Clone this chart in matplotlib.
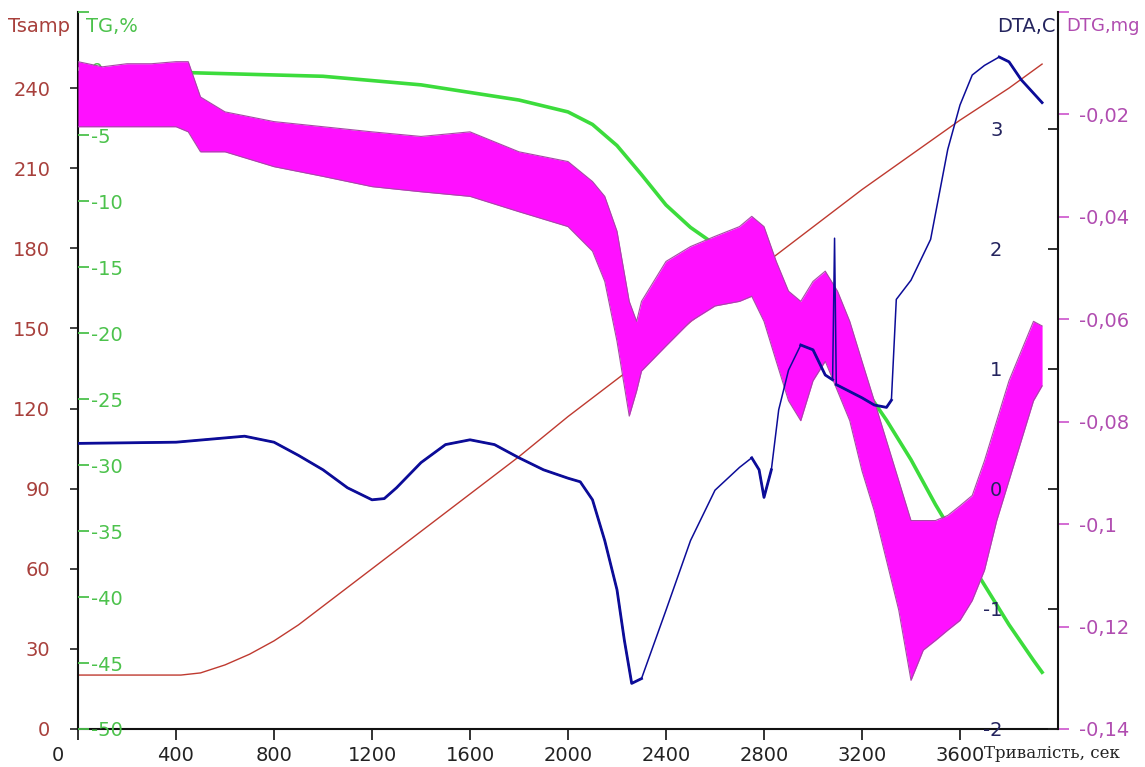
import matplotlib
matplotlib.use('Agg')
import matplotlib.pyplot as plt

plt.rcParams['axes.unicode_minus'] = False
plt.rcParams['font.family'] = ['DejaVu Sans']

####### Data #######

# sample temperature, deg C
temp_t = [0, 420, 500, 600, 700, 800, 900, 1000, 1200, 1400, 1600, 1800,
          2000, 2200, 2400, 2600, 2800, 3000, 3200, 3400, 3600, 3800, 3935]
temp_v = [20.2, 20.2, 21, 24, 28, 33, 39, 46, 60, 74, 88, 102,
          117, 131, 145, 160, 174, 188, 202, 215, 228, 240, 249]

# mass loss TG, %
tg_t = [0, 500, 1000, 1400, 1800, 2000, 2100, 2200, 2300, 2400, 2500, 2600,
        2700, 2800, 2900, 3000, 3100, 3200, 3300, 3400, 3500, 3600, 3700,
        3800, 3900, 3935]
tg_v = [0.0, -0.3, -0.55, -1.2, -2.35, -3.25, -4.2, -5.8, -8.0, -10.3, -12.0,
        -13.3, -14.6, -16.0, -17.5, -19.2, -21.3, -23.9, -26.6, -29.6, -33.0,
        -36.1, -39.1, -42.1, -44.8, -45.7]

# DTA signal
dta_t = [0, 400, 680, 800, 900, 1000, 1100, 1200, 1250, 1300, 1400, 1500,
         1600, 1700, 1800, 1900, 2000, 2050, 2100, 2150, 2200, 2230, 2260,
         2300, 2400, 2500, 2600, 2700, 2750, 2780, 2800, 2830, 2860, 2900,
         2950, 3000, 3050, 3080, 3088, 3095, 3200, 3250, 3300, 3320, 3340,
         3400, 3480, 3550, 3600, 3650, 3700, 3760, 3800, 3850, 3935]
dta_v = [0.38, 0.39, 0.44, 0.39, 0.28, 0.16, 0.01, -0.09, -0.08, 0.01, 0.22,
         0.37, 0.41, 0.37, 0.26, 0.16, 0.09, 0.06, -0.09, -0.43, -0.84, -1.26,
         -1.62, -1.58, -1.01, -0.43, -0.01, 0.18, 0.26, 0.16, -0.07, 0.16,
         0.66, 0.99, 1.2, 1.16, 0.95, 0.91, 2.09, 0.87, 0.76, 0.7, 0.68, 0.74,
         1.58, 1.74, 2.08, 2.83, 3.2, 3.45, 3.53, 3.6, 3.56, 3.41, 3.22]
# stretches where the DTA trace is noisy (drawn heavier)
dta_noisy = [(0, 2300), (2740, 2850), (2950, 3080), (3095, 3320), (3760, 3935)]

# DTG signal, upper and lower edge of the noisy trace
dtg_t = [0, 100, 200, 300, 400, 450, 500, 600, 800, 1000, 1200, 1400, 1600,
         1800, 2000, 2100, 2150, 2200, 2250, 2280, 2300, 2400, 2500, 2600,
         2700, 2750, 2800, 2850, 2900, 2950, 3000, 3050, 3100, 3150, 3200,
         3250, 3300, 3350, 3400, 3450, 3500, 3550, 3600, 3650, 3700, 3750,
         3800, 3850, 3900, 3935]
dtg_hi = [-0.0097, -0.0107, -0.0101, -0.0101, -0.0097, -0.0097, -0.0166,
          -0.0195, -0.0214, -0.0224, -0.0234, -0.0243, -0.0234, -0.0273,
          -0.0292, -0.0331, -0.0360, -0.0428, -0.0565, -0.0604, -0.0565,
          -0.0487, -0.0458, -0.0438, -0.0419, -0.0399, -0.0419, -0.0487,
          -0.0545, -0.0565, -0.0526, -0.0506, -0.0545, -0.0604, -0.0682,
          -0.0759, -0.0837, -0.0915, -0.0993, -0.0993, -0.0993, -0.0983,
          -0.0964, -0.0944, -0.0876, -0.0798, -0.0720, -0.0662, -0.0604,
          -0.0613]
dtg_lo = [-0.0224, -0.0224, -0.0224, -0.0224, -0.0224, -0.0234, -0.0273,
          -0.0273, -0.0302, -0.0321, -0.0341, -0.0351, -0.0360, -0.0390,
          -0.0419, -0.0467, -0.0526, -0.0643, -0.0789, -0.0740, -0.0701,
          -0.0652, -0.0604, -0.0574, -0.0565, -0.0555, -0.0604, -0.0682,
          -0.0759, -0.0798, -0.0720, -0.0682, -0.0740, -0.0798, -0.0896,
          -0.0974, -0.1071, -0.1168, -0.1305, -0.1246, -0.1227, -0.1207,
          -0.1188, -0.1149, -0.1090, -0.0993, -0.0915, -0.0837, -0.0759,
          -0.0730]

x_ticks = [0, 400, 800, 1200, 1600, 2000, 2400, 2800, 3200, 3600]
temp_ticks = [0, 30, 60, 90, 120, 150, 180, 210, 240]
tg_ticks = [-50, -45, -40, -35, -30, -25, -20, -15, -10, -5, 0]
dta_ticks = [-2, -1, 0, 1, 2, 3]
dtg_ticks = [-0.14, -0.12, -0.10, -0.08, -0.06, -0.04, -0.02, 0.0]
dtg_labels = ['-0,14', '-0,12', '-0,1', '-0,08', '-0,06', '-0,04', '-0,02', '']

####### Colours #######

RED = '#bf3a30'
RED_TXT = '#a8403c'
GREEN = '#3cdc3c'
GREEN_TXT = '#4cc24c'
BLUE = '#0c0c98'
NAVY_TXT = '#24245e'
MAGENTA = '#ff10ff'
PURPLE = '#a64aa6'
PURPLE_TXT = '#b04cb0'

W, H = 1145, 767
fig = plt.figure(figsize=(W / 100, H / 100), dpi=100)
ax = fig.add_axes([78 / W, 38 / H, 980 / W, 717 / H])

# temperature axis (host)
ax.plot(temp_t, temp_v, color=RED, lw=1.0, zorder=2)
ax.set_xlim(0, 4000)
ax.set_ylim(0, 268.5)
ax.set_xticks(x_ticks)
ax.set_xticklabels([''] + [str(v) for v in x_ticks[1:]])
ax.set_yticks(temp_ticks)
ax.set_yticklabels([str(v) for v in temp_ticks])
ax.tick_params(axis='x', direction='out', length=8, width=1.3, pad=4,
               labelsize=14, colors='#222222')
ax.tick_params(axis='y', direction='out', length=6, width=1.3, pad=14,
               labelsize=14, color='#333333', labelcolor=RED_TXT)
# the "0" of the time axis sits left of the spine
ax.annotate(str(x_ticks[0]), xy=(x_ticks[0], 0),
            xycoords=('data', 'axes fraction'), xytext=(-14.5, -12),
            textcoords='offset points', ha='center', va='top', fontsize=14,
            color='#222222')
for s in ['top', 'right']:
    ax.spines[s].set_visible(False)
for s in ['left', 'bottom']:
    ax.spines[s].set_linewidth(1.5)
    ax.spines[s].set_color('#111111')

# TG axis, ticks and labels inside the left spine
ax_tg = ax.twinx()
for s in ax_tg.spines.values():
    s.set_visible(False)
ax_tg.plot(tg_t, tg_v, color=GREEN, lw=2.6)
ax_tg.set_ylim(-50, 4.32)
ax_tg.yaxis.tick_left()
ax_tg.set_yticks(tg_ticks)
ax_tg.set_yticklabels([str(v) for v in tg_ticks])
ax_tg.set_yticks([4.32], minor=True)
ax_tg.tick_params(axis='y', which='both', left=True, right=False,
                  labelleft=True, labelright=False, direction='in',
                  length=8, width=1.3, pad=-9, labelsize=14,
                  color=GREEN_TXT, labelcolor=GREEN_TXT)
plt.setp(ax_tg.get_yticklabels(), ha='left')

# DTG axis, ticks outside the right spine
ax_dtg = ax.twinx()
for s in ax_dtg.spines.values():
    s.set_visible(False)
ax_dtg.fill_between(dtg_t, dtg_lo, dtg_hi, color=MAGENTA, lw=0)
ax_dtg.plot(dtg_t, dtg_hi, color=PURPLE, lw=0.8)
ax_dtg.plot(dtg_t, dtg_lo, color=PURPLE, lw=0.8)
ax_dtg.set_ylim(-0.14, 0.0)
ax_dtg.set_yticks(dtg_ticks)
ax_dtg.set_yticklabels(dtg_labels)
ax_dtg.tick_params(axis='y', direction='out', length=8, width=1.3, pad=7,
                   labelsize=14, color='#d060d0', labelcolor=PURPLE_TXT)

# DTA axis, ticks and labels inside the right spine
ax_dta = ax.twinx()
for s in ['top', 'left', 'bottom']:
    ax_dta.spines[s].set_visible(False)
ax_dta.spines['right'].set_linewidth(1.5)
ax_dta.spines['right'].set_color('#111111')
ax_dta.plot(dta_t, dta_v, color=BLUE, lw=1.1)
for t0, t1 in dta_noisy:
    seg = [(t, v) for t, v in zip(dta_t, dta_v) if t0 <= t <= t1]
    ax_dta.plot([p[0] for p in seg], [p[1] for p in seg], color=BLUE, lw=2.0)
ax_dta.set_ylim(-2, 3.975)
ax_dta.set_yticks(dta_ticks)
ax_dta.set_yticklabels([str(v) for v in dta_ticks])
ax_dta.tick_params(axis='y', direction='in', length=7, width=1.3, pad=-40,
                   labelsize=14, color='#222222', labelcolor=NAVY_TXT)
plt.setp(ax_dta.get_yticklabels(), ha='right')

# axis captions
fig.text(8 / W, 1 - 26 / H, 'Tsamp', color=RED_TXT, fontsize=14, va='center')
fig.text(86 / W, 1 - 26 / H, 'TG,%', color=GREEN_TXT, fontsize=14, va='center')
fig.text(1056 / W, 1 - 26 / H, 'DTA,C', color=NAVY_TXT, fontsize=14,
         ha='right', va='center')
fig.text(1066 / W, 1 - 26 / H, 'DTG,mg', color=PURPLE_TXT, fontsize=13,
         va='center')
fig.text(984 / W, 1 - 753 / H, 'Тривалість, сек', family='DejaVu Serif',
         fontsize=12, color='#222222', va='center')

fig.savefig('out.png', dpi=100)
